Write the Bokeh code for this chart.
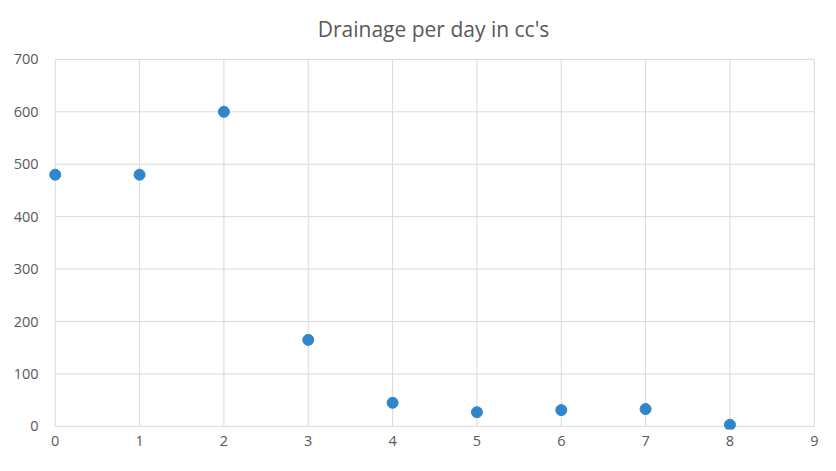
from bokeh.plotting import figure
from bokeh.models import Range1d, FixedTicker
from bokeh.embed import file_html
from bokeh.resources import INLINE

# Data
days = [0, 1, 2, 3, 4, 5, 6, 7, 8]
drainage = [480, 480, 600, 165, 45, 27, 31, 33, 3]
x_ticks = [0, 1, 2, 3, 4, 5, 6, 7, 8, 9]
y_ticks = [0, 100, 200, 300, 400, 500, 600, 700]
title_text = "Drainage per day in cc's"

FONT = "Open Sans"
TXT = "#595959"
GRID = "#d9d9dc"
BLUE = "#2F86CA"

p = figure(width=820, height=455, output_backend="svg", toolbar_location=None,
           x_range=Range1d(-0.08, 9.05), y_range=Range1d(-6, 703.6),
           min_border_left=48, min_border_right=2, min_border_top=57, min_border_bottom=26,
           title=title_text)
p.outline_line_color = None
p.background_fill_color = "white"
p.border_fill_color = "white"

p.title.align = "center"
p.title.vertical_align = "top"
p.title.standoff = 26
p.title.text_font = FONT
p.title.text_font_size = "21px"
p.title.text_font_style = "normal"
p.title.text_color = TXT

p.xgrid.visible = False
p.ygrid.visible = False

# grid lines drawn from the tick arrays, bounded to the axis extent
x0 = min(x_ticks); x1 = max(x_ticks)
y0 = min(y_ticks); y1 = max(y_ticks)
p.segment(x0=x_ticks, y0=[y0] * len(x_ticks), x1=x_ticks, y1=[y1] * len(x_ticks),
          line_color=GRID, line_width=1)
p.segment(x0=[x0] * len(y_ticks), y0=y_ticks, x1=[x1] * len(y_ticks), y1=y_ticks,
          line_color=GRID, line_width=1)

p.scatter(days, drainage, size=11, fill_color=BLUE, line_color=BLUE)

for ax, ticks, st in ((p.xaxis[0], x_ticks, 6), (p.yaxis[0], y_ticks, 10)):
    ax.ticker = FixedTicker(ticks=ticks)
    ax.axis_line_color = None
    ax.major_tick_line_color = None
    ax.minor_tick_line_color = None
    ax.major_tick_out = 0
    ax.major_tick_in = 0
    ax.minor_tick_out = 0
    ax.minor_tick_in = 0
    ax.major_label_text_font = FONT
    ax.major_label_text_font_size = "14.5px"
    ax.major_label_text_color = TXT
    ax.major_label_standoff = st

open("out.html", "w").write(file_html(p, INLINE))
